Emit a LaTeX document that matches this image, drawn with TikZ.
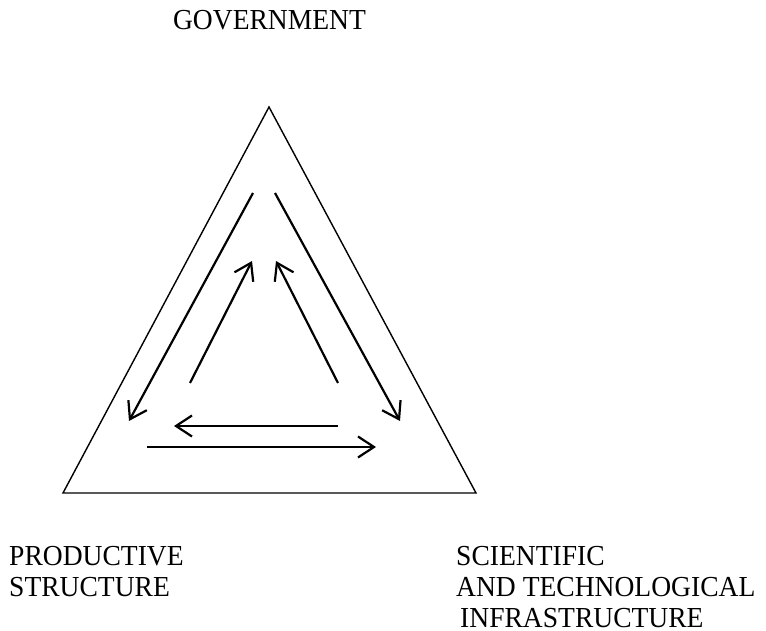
\documentclass[tikz,border=0pt]{standalone}
\usepackage{fontspec}
\setmainfont{Liberation Serif}[FakeStretch=0.95]
\usetikzlibrary{arrows.meta}
\begin{document}
\begin{tikzpicture}[x=1pt,y=-1pt,
  label text/.style={inner sep=0pt, font=\fontsize{29}{31}\selectfont, align=left},
  frame/.style={line width=1.4pt, line join=miter},
  flow/.style={line width=2.2pt, -{Straight Barb[length=16pt,width=21pt]}}]
  \useasboundingbox (0,0) rectangle (766,631);

  % outer triangle
  \coordinate (top) at (269,107);
  \coordinate (bl) at (63,493);
  \coordinate (br) at (476,493);
  \draw[frame] (top) -- (bl) -- (br) -- cycle;

  % corner labels
  \node[label text, anchor=base] (gov) at (269.5,30) {GOVERNMENT};
  \node[label text, anchor=base west] (prod) at (9,565) {PRODUCTIVE};
  \node[label text, anchor=base west] (prod2) at (9,596) {STRUCTURE};
  \node[label text, anchor=base west] (sci) at (456,565) {SCIENTIFIC};
  \node[label text, anchor=base west] (sci2) at (456,596) {AND TECHNOLOGICAL};
  \node[label text, anchor=base west] (sci3) at (460,627) {INFRASTRUCTURE};

  % arrow end points
  \coordinate (a1) at (253,193);  \coordinate (a2) at (129,421);
  \coordinate (b1) at (275,193);  \coordinate (b2) at (400,421);
  \coordinate (c1) at (190,383);  \coordinate (c2) at (252,261);
  \coordinate (d1) at (338,383);  \coordinate (d2) at (276,261);
  \coordinate (e1) at (338,426);  \coordinate (e2) at (174,426);
  \coordinate (f1) at (147,447);  \coordinate (f2) at (376,447);

  % flows between the three actors
  \draw[flow] (a1) -- (a2);
  \draw[flow] (b1) -- (b2);
  \draw[flow] (c1) -- (c2);
  \draw[flow] (d1) -- (d2);
  \draw[flow] (e1) -- (e2);
  \draw[flow] (f1) -- (f2);
\end{tikzpicture}
\end{document}
